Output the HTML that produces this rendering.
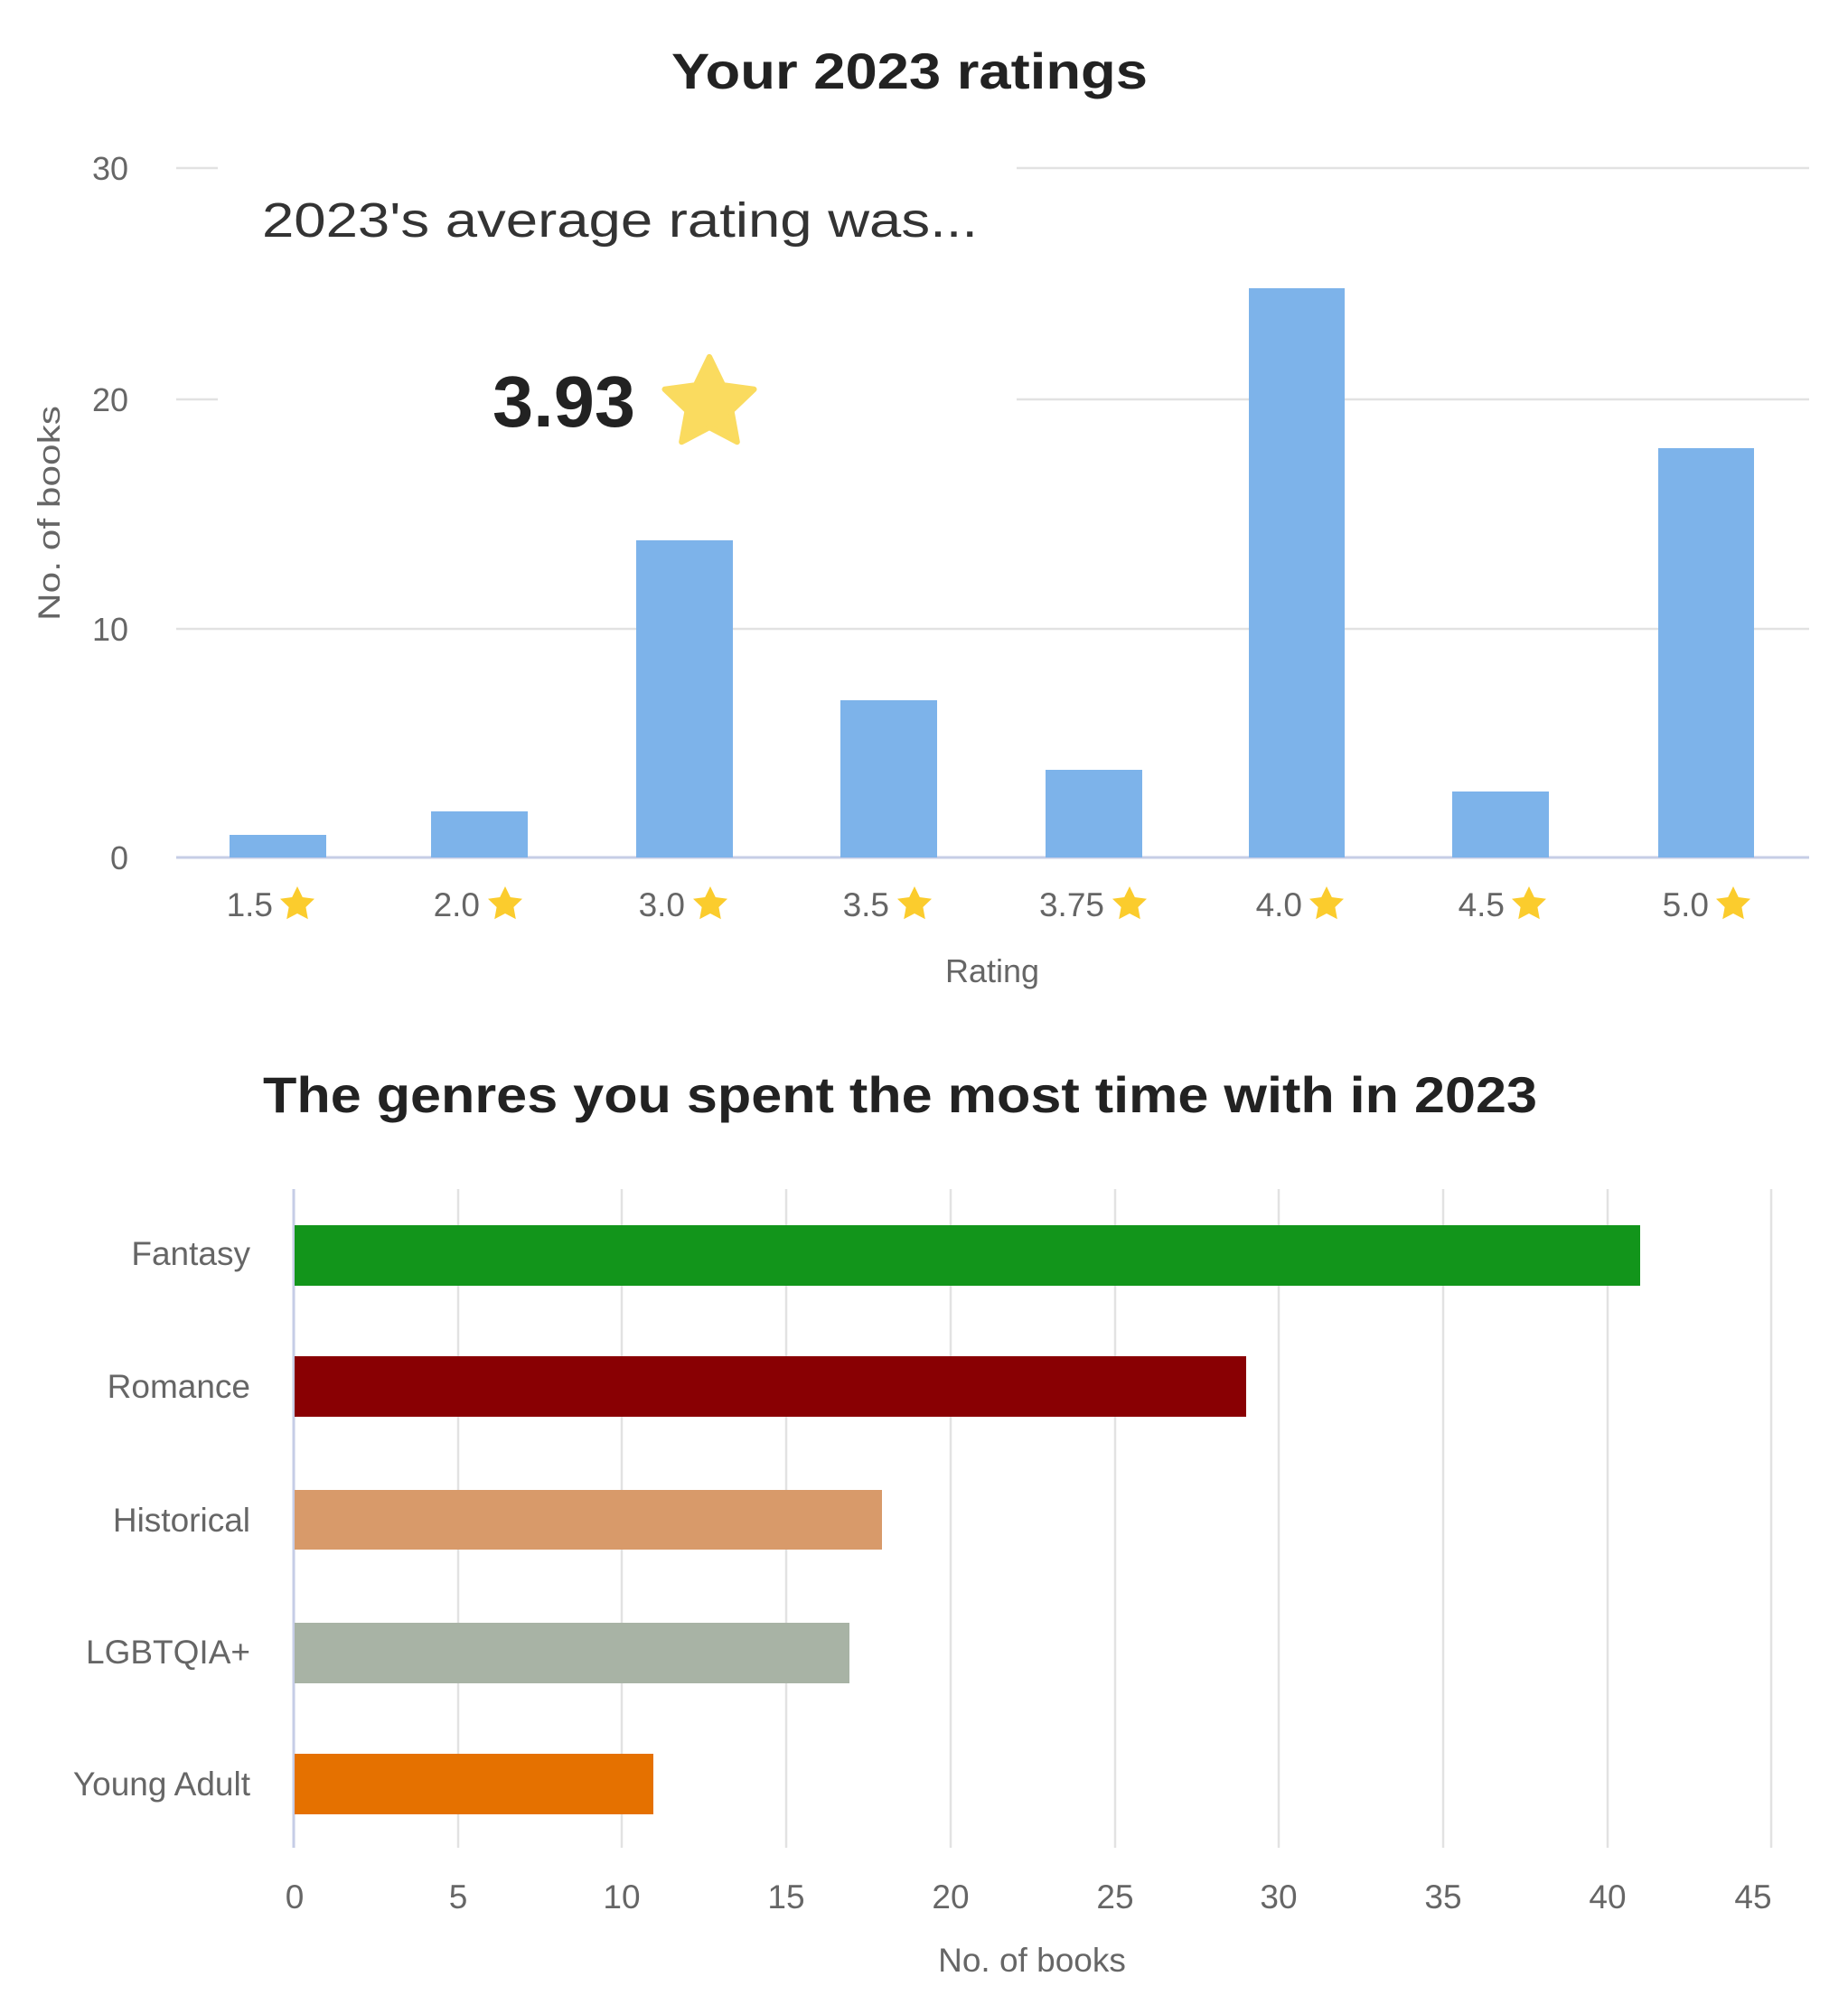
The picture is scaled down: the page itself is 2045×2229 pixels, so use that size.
<!DOCTYPE html>
<html><head><meta charset="utf-8"><style>
html,body{margin:0;padding:0;background:#fff;}
svg{display:block;font-family:"Liberation Sans",sans-serif;}
</style></head><body>
<svg width="2045" height="2229" viewBox="0 0 2045 2229" xmlns="http://www.w3.org/2000/svg">
<defs>
<path id="st" d="M0,-1 L0.29,-0.40 L0.95,-0.31 L0.47,0.15 L0.59,0.81 L0,0.50 L-0.59,0.81 L-0.47,0.15 L-0.95,-0.31 L-0.29,-0.40 Z"/>
</defs>
<text x="743" y="98" textLength="527" lengthAdjust="spacingAndGlyphs" font-size="56" font-weight="bold" fill="#222">Your 2023 ratings</text>
<g stroke="#e2e2e2" stroke-width="2.5">
<line x1="195" y1="186" x2="241" y2="186"/><line x1="1125" y1="186" x2="2002" y2="186"/>
<line x1="195" y1="442" x2="241" y2="442"/><line x1="1125" y1="442" x2="2002" y2="442"/>
<line x1="195" y1="696" x2="2002" y2="696"/>
</g>
<line x1="195" y1="949" x2="2002" y2="949" stroke="#c6cde6" stroke-width="3"/>
<g font-size="36" fill="#666" text-anchor="end">
<text x="142" y="199">30</text><text x="142" y="455">20</text><text x="142" y="709">10</text><text x="142" y="962">0</text>
</g>
<text transform="translate(66,687) rotate(-90)" textLength="238" lengthAdjust="spacingAndGlyphs" font-size="34" fill="#666">No. of books</text>
<g fill="#7db3ea">
<rect x="254" y="924" width="107" height="25"/>
<rect x="477" y="898" width="107" height="51"/>
<rect x="704" y="598" width="107" height="351"/>
<rect x="930" y="775" width="107" height="174"/>
<rect x="1157" y="852" width="107" height="97"/>
<rect x="1382" y="319" width="106" height="630"/>
<rect x="1607" y="876" width="107" height="73"/>
<rect x="1835" y="496" width="106" height="453"/>
</g>
<g font-size="37" fill="#666" text-anchor="end">
<text x="302" y="1014">1.5</text><text x="531" y="1014">2.0</text><text x="758" y="1014">3.0</text><text x="984" y="1014">3.5</text>
<text x="1222" y="1014">3.75</text><text x="1441" y="1014">4.0</text><text x="1665" y="1014">4.5</text><text x="1891" y="1014">5.0</text>
</g>
<g fill="#fbcc2d">
<use href="#st" transform="translate(329,1001) scale(20)"/><use href="#st" transform="translate(559,1001) scale(20)"/>
<use href="#st" transform="translate(786,1001) scale(20)"/><use href="#st" transform="translate(1012,1001) scale(20)"/>
<use href="#st" transform="translate(1250,1001) scale(20)"/><use href="#st" transform="translate(1468,1001) scale(20)"/>
<use href="#st" transform="translate(1692,1001) scale(20)"/><use href="#st" transform="translate(1918,1001) scale(20)"/>
</g>
<text x="1098" y="1087" text-anchor="middle" font-size="36" fill="#666">Rating</text>
<text x="290" y="262" textLength="792" lengthAdjust="spacingAndGlyphs" font-size="54" fill="#333">2023's average rating was...</text>
<text x="545" y="472" textLength="158" lengthAdjust="spacingAndGlyphs" font-size="80" font-weight="bold" fill="#222">3.93</text>
<use href="#st" transform="translate(785,447) scale(52)" fill="#fadb5f" stroke="#fadb5f" stroke-width="0.12" stroke-linejoin="round"/>

<text x="291" y="1231" textLength="1410" lengthAdjust="spacingAndGlyphs" font-size="56" font-weight="bold" fill="#222">The genres you spent the most time with in 2023</text>
<g stroke="#e2e2e2" stroke-width="2.5">
<line x1="507" y1="1316" x2="507" y2="2045"/><line x1="688" y1="1316" x2="688" y2="2045"/>
<line x1="870" y1="1316" x2="870" y2="2045"/><line x1="1052" y1="1316" x2="1052" y2="2045"/>
<line x1="1234" y1="1316" x2="1234" y2="2045"/><line x1="1415" y1="1316" x2="1415" y2="2045"/>
<line x1="1597" y1="1316" x2="1597" y2="2045"/><line x1="1779" y1="1316" x2="1779" y2="2045"/>
<line x1="1960" y1="1316" x2="1960" y2="2045"/>
</g>
<line x1="325" y1="1316" x2="325" y2="2045" stroke="#c6cde6" stroke-width="3"/>
<rect x="326" y="1356" width="1489" height="67" fill="#12951b"/>
<rect x="326" y="1501" width="1053" height="67" fill="#890003"/>
<rect x="326" y="1649" width="650" height="66" fill="#d89a6a"/>
<rect x="326" y="1796" width="614" height="67" fill="#a8b3a5"/>
<rect x="326" y="1941" width="397" height="67" fill="#e57100"/>
<g font-size="37" fill="#666" text-anchor="end">
<text x="277" y="1400">Fantasy</text><text x="277" y="1547">Romance</text><text x="277" y="1695">Historical</text>
<text x="277" y="1841">LGBTQIA+</text><text x="277" y="1987">Young Adult</text>
</g>
<g font-size="37" fill="#666" text-anchor="middle">
<text x="326" y="2112">0</text><text x="507" y="2112">5</text><text x="688" y="2112">10</text><text x="870" y="2112">15</text>
<text x="1052" y="2112">20</text><text x="1234" y="2112">25</text><text x="1415" y="2112">30</text><text x="1597" y="2112">35</text>
<text x="1779" y="2112">40</text><text x="1940" y="2112">45</text>
</g>
<text x="1142" y="2182" text-anchor="middle" font-size="37" fill="#666">No. of books</text>
</svg>
</body></html>
